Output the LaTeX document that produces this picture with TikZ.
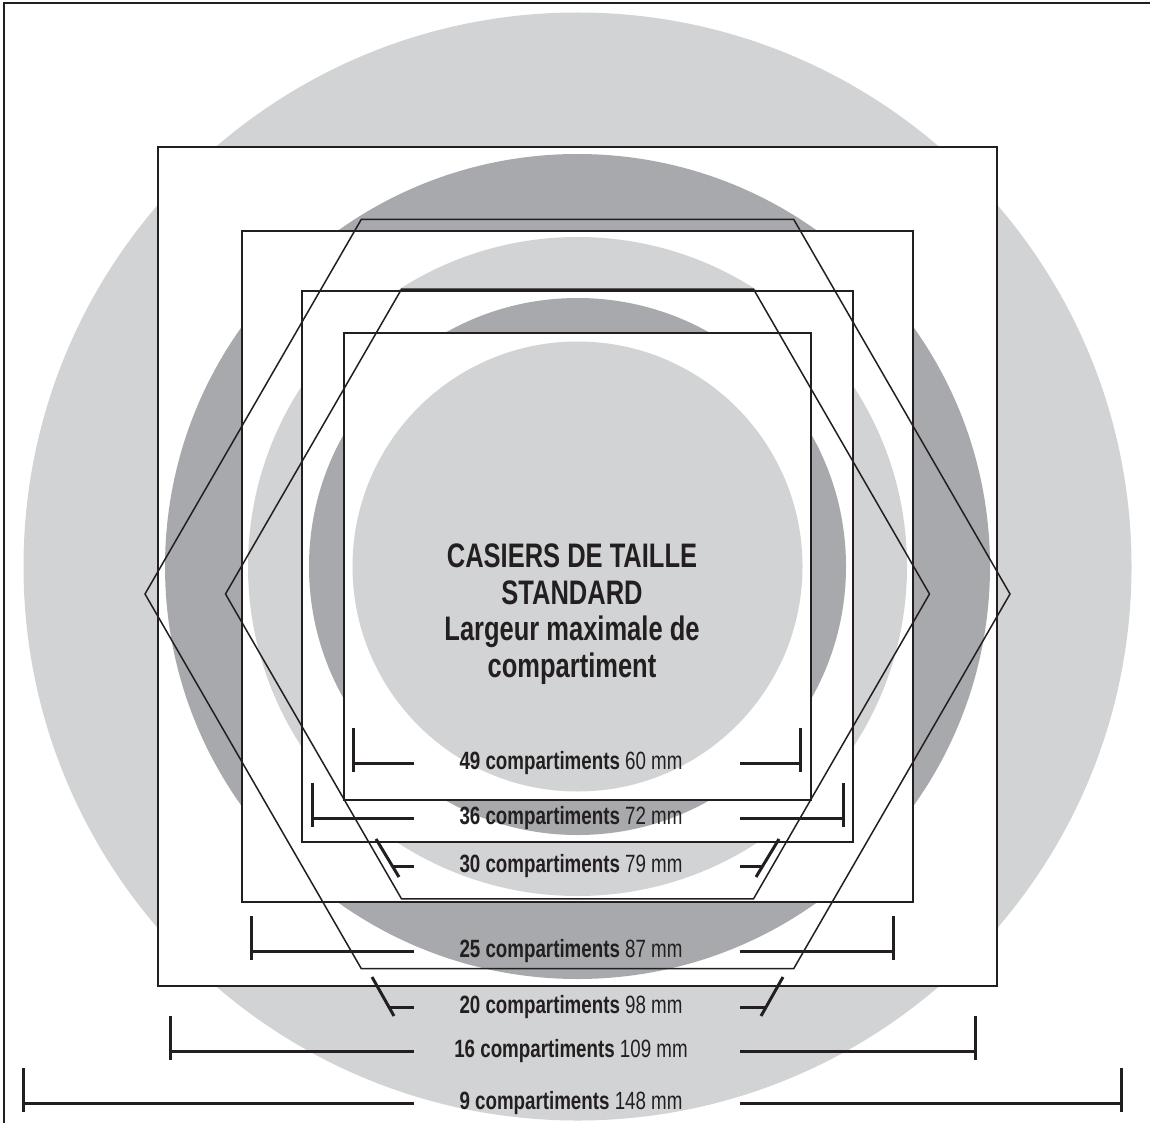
\documentclass[tikz,border=0pt]{standalone}
\usepackage{fontspec}
\setmainfont{Liberation Sans}[FakeStretch=0.75]
\definecolor{lightg}{HTML}{D1D3D4}
\definecolor{darkg}{HTML}{A7A9AC}
\definecolor{ink}{HTML}{231F20}
\tikzset{
  outline/.style={draw=ink, line width=1.5pt},
  boxw/.style={fill=white, draw=ink, line width=1.5pt},
  bar/.style={draw=ink, line width=3pt},
  lbl/.style={text=ink, font=\fontsize{25}{28}\selectfont, inner sep=0pt},
}
\begin{document}
\begin{tikzpicture}[x=1pt,y=-1pt]
\useasboundingbox (0,0) rectangle (1150,1123);
\coordinate (C) at (577.5,566.5);
\coordinate (H) at (577.5,594);
% nested circles and squares
\fill[lightg] (C) circle[radius=554];
\path[boxw] (158,147) rectangle (997,986);
\fill[darkg] (C) circle[radius=412.5];
\path[boxw] (242,231) rectangle (913,902);
\fill[lightg] (C) circle[radius=329.5];
\path[boxw] (302,291) rectangle (853,842);
\fill[darkg] (C) circle[radius=268.5];
\path[boxw] (344,333) rectangle (811,800);
\fill[lightg] (C) circle[radius=225];
% hexagons
\draw[outline, shift={(577.5,594)}] (0:432.5) -- (60:432.5) -- (120:432.5) -- (180:432.5) -- (240:432.5) -- (300:432.5) -- cycle;
\draw[outline, shift={(577.5,594)}] (0:352) -- (60:352) -- (120:352) -- (180:352) -- (240:352) -- (300:352) -- cycle;
% frame (left and top edges only are visible)
\draw[ink, line width=1.2pt] (4,1123) -- (4,3) -- (1150,3);
% title
\node[text=ink, font=\bfseries\fontsize{34}{36.5}\selectfont, align=center, inner sep=0pt, anchor=base] (title) at (572,677)
  {CASIERS DE TAILLE\\STANDARD\\Largeur maximale de\\compartiment};
% labels
\node[lbl] (l49) at (571,763) {\textbf{49 compartiments} 60 mm};
\node[lbl] (l36) at (571,818) {\textbf{36 compartiments} 72 mm};
\node[lbl] (l30) at (571,866) {\textbf{30 compartiments} 79 mm};
\node[lbl] (l25) at (571,951) {\textbf{25 compartiments} 87 mm};
\node[lbl] (l20) at (571,1007) {\textbf{20 compartiments} 98 mm};
\node[lbl] (l16) at (571,1051) {\textbf{16 compartiments} 109 mm};
\node[lbl] (l9) at (571,1103) {\textbf{9 compartiments} 148 mm};
% straight brackets
\foreach \y/\l/\r in {763/353/800, 818/312/843, 951/251/893, 1051/170/975, 1103/23/1121}{
  \draw[bar] (\l,\y-35) -- (\l,\y+9);
  \draw[bar] (\l,\y) -- (414,\y);
  \draw[bar] (740,\y) -- (\r,\y);
  \draw[bar] (\r,\y-35) -- (\r,\y+9);
}
% slanted brackets (hexagons)
\draw[bar] (376,839) -- (399,877);
\draw[bar] (392,866) -- (414,866);
\draw[bar] (740,866) -- (763,866);
\draw[bar] (779,839) -- (756,877);
\draw[bar] (372,977) -- (394,1016);
\draw[bar] (389,1007) -- (414,1007);
\draw[bar] (740,1007) -- (766,1007);
\draw[bar] (783,977) -- (761,1016);
\end{tikzpicture}
\end{document}
